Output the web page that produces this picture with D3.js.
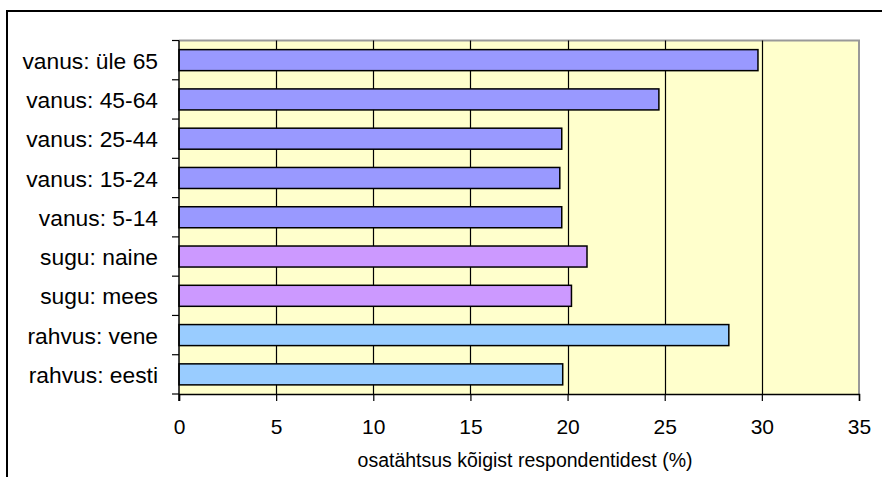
<!DOCTYPE html>
<html>
<head>
<meta charset="utf-8">
<script src="https://cdn.jsdelivr.net/npm/d3@7"></script>
<style>
  html, body { margin: 0; padding: 0; background: #fff; }
  svg { display: block; }
  text { font-family: Arial, "Liberation Sans", sans-serif; fill: #000; }
</style>
</head>
<body>
<svg id="chart" width="882" height="477"></svg>
<script>
// Share of all respondents by group (%)
const categories = ["vanus: üle 65", "vanus: 45-64", "vanus: 25-44", "vanus: 15-24", "vanus: 5-14",
                    "sugu: naine", "sugu: mees", "rahvus: vene", "rahvus: eesti"];
const values = [29.8, 24.7, 19.7, 19.6, 19.7, 21.0, 20.2, 28.3, 19.75];
const groups = ["vanus", "vanus", "vanus", "vanus", "vanus", "sugu", "sugu", "rahvus", "rahvus"];
const groupNames = ["vanus", "sugu", "rahvus"];
const groupColors = ["#9999FF", "#CC99FF", "#99CCFF"];
const xTicks = [0, 5, 10, 15, 20, 25, 30, 35];
const xTitle = "osatähtsus kõigist respondentidest (%)";

const svg = d3.select("#chart");
const plot = { left: 179, right: 859, top: 40.5, bottom: 394 };

const x = d3.scaleLinear().domain([0, 35]).range([plot.left, plot.right]);
const y = d3.scaleBand().domain(categories).range([plot.top, plot.bottom])
  .paddingInner(0.465).paddingOuter(0.2325);
const color = d3.scaleOrdinal().domain(groupNames).range(groupColors);

// outer frame
svg.append("rect")
  .attr("x", 7).attr("y", 11).attr("width", 890).attr("height", 480)
  .attr("fill", "none").attr("stroke", "#000").attr("stroke-width", 2);

// plot background
svg.append("rect")
  .attr("x", plot.left).attr("y", plot.top)
  .attr("width", plot.right - plot.left).attr("height", plot.bottom - plot.top)
  .attr("fill", "#FFFFCC");

// plot border top/right in grey
svg.append("path")
  .attr("d", `M${plot.left},${plot.top}H${plot.right}V${plot.bottom}`)
  .attr("fill", "none").attr("stroke", "#999").attr("stroke-width", 2);

// vertical gridlines
svg.append("g").selectAll("line")
  .data(xTicks.filter(t => t > 0 && t < 35))
  .join("line")
  .attr("x1", d => Math.round(x(d)) + 0.5).attr("x2", d => Math.round(x(d)) + 0.5)
  .attr("y1", plot.top).attr("y2", plot.bottom)
  .attr("stroke", "#000").attr("stroke-width", 1.2);

// bars
svg.append("g").selectAll("rect")
  .data(categories)
  .join("rect")
  .attr("x", x(0))
  .attr("y", d => y(d))
  .attr("width", (d, i) => x(values[i]) - x(0))
  .attr("height", y.bandwidth())
  .attr("fill", (d, i) => color(groups[i]))
  .attr("stroke", "#000").attr("stroke-width", 1.5);

// x axis
const xAxis = svg.append("g")
  .attr("transform", `translate(0,${plot.bottom})`)
  .call(d3.axisBottom(x).tickValues(xTicks).tickSize(7).tickPadding(18).tickFormat(d3.format("d")));
xAxis.select(".domain").attr("stroke", "#000").attr("stroke-width", 1.5);
xAxis.selectAll(".tick line").attr("stroke", "#000").attr("stroke-width", 1.2);
xAxis.selectAll("text").attr("font-size", 21).attr("font-family", "Arial, 'Liberation Sans', sans-serif");

// y axis with ticks on category boundaries
const step = y.step();
const boundaries = d3.range(categories.length + 1).map(i => plot.top + i * step);
svg.append("line")
  .attr("x1", plot.left).attr("x2", plot.left)
  .attr("y1", plot.top).attr("y2", plot.bottom + 7)
  .attr("stroke", "#000").attr("stroke-width", 1.5);
svg.append("g").selectAll("line")
  .data(boundaries)
  .join("line")
  .attr("x1", plot.left - 7).attr("x2", plot.left)
  .attr("y1", d => d).attr("y2", d => d)
  .attr("stroke", "#000").attr("stroke-width", 1.2);

// category labels
svg.append("g").selectAll("text")
  .data(categories)
  .join("text")
  .attr("x", 158)
  .attr("y", d => y(d) + y.bandwidth() / 2)
  .attr("dy", "0.38em")
  .attr("text-anchor", "end")
  .attr("font-size", 22.8)
  .text(d => d);

// x axis title
svg.append("text")
  .attr("x", 525)
  .attr("y", 467)
  .attr("text-anchor", "middle")
  .attr("font-size", 19.5)
  .text(xTitle);
</script>
</body>
</html>
